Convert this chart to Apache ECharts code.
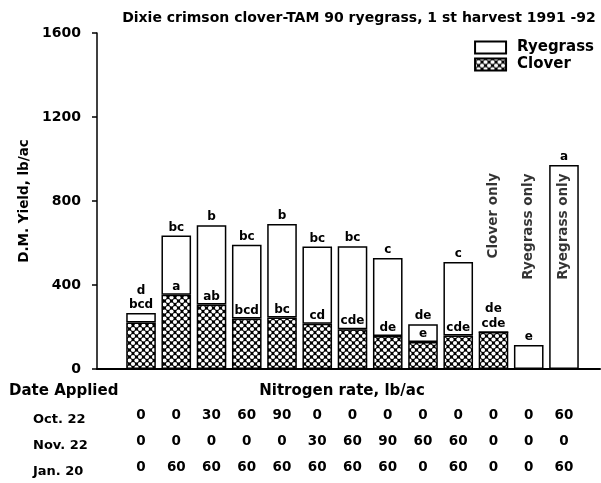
<!DOCTYPE html>
<html>
<head>
<meta charset="utf-8">
<script src="https://cdn.jsdelivr.net/npm/echarts@6/dist/echarts.min.js"></script>
<style>html,body{margin:0;padding:0;background:#fff}#c{width:601px;height:483px}</style>
</head>
<body>
<div id="c"></div>
<script>
// ---- data ----
var categories = ['T1','T2','T3','T4','T5','T6','T7','T8','T9','T10','T11','T12','T13'];
var clover   = [221, 354, 307, 240, 245, 215, 189, 157, 128, 160, 176, 0, 0];
var ryegrass = [46, 282, 377, 352, 445, 368, 396, 371, 85, 349, 0, 114, 971];
var cloverLetters = ['bcd','a','ab','bcd','bc','cd','cde','de','e','cde','cde','',''];
var totalLetters  = ['d','bc','b','bc','b','bc','bc','c','de','c','de','e','a'];
var oct22 = [0, 0, 30, 60, 90, 0, 0, 0, 0, 0, 0, 0, 60];
var nov22 = [0, 0, 0, 0, 0, 30, 60, 90, 60, 60, 0, 0, 0];
var jan20 = [0, 60, 60, 60, 60, 60, 60, 60, 0, 60, 0, 0, 60];
var dateRows = ['Oct. 22', 'Nov. 22', 'Jan. 20'];
var yTicks = [0, 400, 800, 1200, 1600];
var notes = ['Clover only', 'Ryegrass only', 'Ryegrass only'];

// ---- hatch pattern ----
function hatch() {
  var c = document.createElement('canvas');
  c.width = 7; c.height = 7;
  var g = c.getContext('2d');
  g.fillStyle = '#000'; g.fillRect(0, 0, 7, 7);
  g.fillStyle = '#fff';
  [[0,0],[7,0],[0,7],[7,7],[3.5,3.5]].forEach(function (p) {
    g.beginPath(); g.arc(p[0], p[1], 2.1, 0, Math.PI * 2); g.fill();
  });
  return c;
}
var F = '"DejaVu Sans", sans-serif';
var pat = { image: hatch(), repeat: 'repeat' };
function ts(size, extra) {
  var o = { fontSize: size, fontWeight: 'bold', color: '#000', fontFamily: F };
  for (var k in extra) o[k] = extra[k];
  return o;
}

// special label offsets where the ryegrass part is too thin for the clover letter
var cloverData = clover.map(function (v, i) {
  var d = { value: v };
  if (i === 0) d.label = { offset: [0, -(ryegrass[i] / 1600 * 336)] };
  return d;
});
var ryeData = ryegrass.map(function (v, i) {
  var d = { value: v };
  if (i === 0 || i === 10) d.label = { offset: [0, -14] };
  return d;
});
var noteData = [[10, 730], [11, 678], [12, 678]];

var chart = echarts.init(document.getElementById('c'));
chart.setOption({
  animation: false,
  textStyle: { fontFamily: F },
  title: [
    { text: 'Dixie crimson clover-TAM 90 ryegrass, 1 st harvest 1991 -92', left: 354, top: 6, textAlign: 'center', textStyle: ts(14) },
    { text: 'Date Applied', left: 4, top: 379, textStyle: ts(15) },
    { text: 'Nitrogen rate, lb/ac', left: 337, top: 379, textAlign: 'center', textStyle: ts(15) },
    { text: dateRows.join('\n'), left: 28, top: 402, textStyle: ts(13, { lineHeight: 26 }) }
  ],
  legend: {
    orient: 'vertical', right: 2, top: 35, itemWidth: 31, itemHeight: 12, itemGap: 2, icon: 'rect',
    textStyle: ts(15, { padding: [0, 0, 0, 6] }),
    data: ['Ryegrass', 'Clover']
  },
  grid: [
    { left: 97, right: 1, top: 33, bottom: 114 },
    { left: 123.4, right: 19.4, top: 33, bottom: 114 }
  ],
  xAxis: [
    { gridIndex: 0, type: 'value', min: 0, max: 1, axisLine: { show: true, lineStyle: { color: '#000', width: 2 } },
      axisTick: { show: false }, axisLabel: { show: false }, splitLine: { show: false } },
    { gridIndex: 1, type: 'category', data: categories, axisLine: { show: false }, axisTick: { show: false },
      axisLabel: Object.assign({ interval: 0, margin: 33, lineHeight: 26,
        formatter: function (v, i) { return oct22[i] + '\n' + nov22[i] + '\n' + jan20[i]; } }, ts(13.5)) }
  ],
  yAxis: [
    { gridIndex: 0, type: 'value', min: yTicks[0], max: yTicks[yTicks.length - 1], interval: 400,
      name: 'D.M. Yield, lb/ac', nameLocation: 'middle', nameGap: 66, nameRotate: 90,
      nameTextStyle: ts(13.5),
      axisLine: { show: true, lineStyle: { color: '#000', width: 1.5 } },
      axisTick: { show: true, length: 5, lineStyle: { color: '#000', width: 1.5 } },
      axisLabel: Object.assign({ margin: 16, formatter: function (v) { return String(v); } }, ts(14)),
      splitLine: { show: false } },
    { gridIndex: 1, type: 'value', min: 0, max: 1600, show: false, splitLine: { show: false } }
  ],
  series: [
    { type: 'scatter', xAxisIndex: 0, yAxisIndex: 0, data: [], silent: true },
    { name: 'Clover', type: 'bar', stack: 's', xAxisIndex: 1, yAxisIndex: 1, barCategoryGap: '16%',
      itemStyle: { color: pat, borderColor: '#000', borderWidth: 1.5 },
      label: Object.assign({ show: true, position: 'top', distance: 2,
        formatter: function (p) { return cloverLetters[p.dataIndex]; } }, ts(12)),
      data: cloverData },
    { name: 'Ryegrass', type: 'bar', stack: 's', xAxisIndex: 1, yAxisIndex: 1, barCategoryGap: '16%',
      itemStyle: { color: '#fff', borderColor: '#000', borderWidth: 1.5 },
      label: Object.assign({ show: true, position: 'top', distance: 2,
        formatter: function (p) { return totalLetters[p.dataIndex]; } }, ts(12)),
      data: ryeData },
    { type: 'scatter', xAxisIndex: 1, yAxisIndex: 1, symbolSize: 0, silent: true,
      label: Object.assign({ show: true, position: 'inside', rotate: 90,
        formatter: function (p) { return notes[p.dataIndex]; } }, ts(13.5)),
      data: noteData }
  ]
});
</script>
</body>
</html>
